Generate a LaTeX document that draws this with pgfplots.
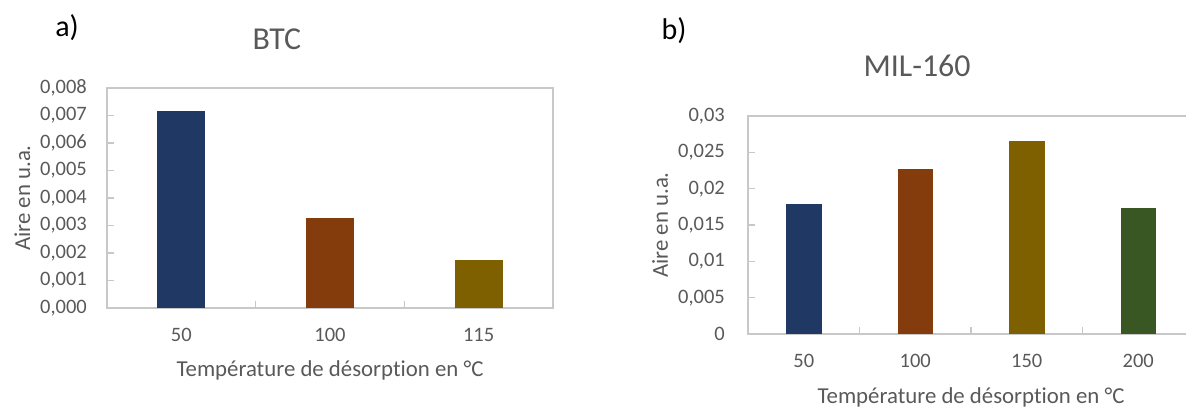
\documentclass[border=0pt]{standalone}
\usepackage{pgfplots}
\pgfplotsset{compat=1.18}
\usepackage{fontspec}
\setmainfont{Carlito}[Ligatures={NoCommon,NoContextual}]
\definecolor{txt}{HTML}{595959}
\definecolor{axgray}{HTML}{C8C8C8}
\definecolor{cblue}{HTML}{203864}
\definecolor{cbrown}{HTML}{843C0C}
\definecolor{colive}{HTML}{7F6000}
\definecolor{cgreen}{HTML}{385723}
\begin{document}
\begin{tikzpicture}
\path[use as bounding box] (0,0) rectangle (1186bp,409bp);
\pgfplotsset{
  common/.style={
    anchor=south west,
    scale only axis,
    width=446bp,
    axis line style={axgray, line width=1.5bp},
    tick style={axgray, line width=1.2bp},
    major tick length=7bp,
    minor tick length=7bp,
    tick align=inside,
    tick pos=left,
    major x tick style={draw=none},
    scaled y ticks=false,
    /pgf/number format/assume math mode=true,
    ymin=0,
    xmin=-0.5,
    every tick label/.append style={font=\fontsize{20.5bp}{24bp}\selectfont, text=txt, inner sep=0pt},
    xticklabel style={anchor=center, yshift=-27bp},
    label style={font=\fontsize{22.8bp}{27bp}\selectfont, text=txt},
    title style={font=\fontsize{31.9bp}{36bp}\selectfont, text=txt, anchor=center},
  }
}
\begin{axis}[common,
  at={(107bp,101bp)},
  height=220bp,
  xmax=2.5,
  ymax=0.008,
  xtick={0,1,2},
  xticklabels={50,100,115},
  minor xtick={0.5,1.5},
  ytick={0,0.001,0.002,0.003,0.004,0.005,0.006,0.007,0.008},
  yticklabels={{0,000},{0,001},{0,002},{0,003},{0,004},{0,005},{0,006},{0,007},{0,008}},
  yticklabel style={anchor=east, xshift=-20bp},
  xlabel={Température de désorption en °C},
  xlabel style={at={(axis description cs:0.5,-0.282)}, anchor=center},
  ylabel={Aire en u.a.},
  ylabel style={at={(axis description cs:-0.19,0.5)}, anchor=center},
  title={BTC},
  title style={at={(axis description cs:0.381,1.195)}},
]
\addplot[ybar, bar shift=0pt, bar width=48bp, fill=cblue, draw=none] coordinates {(0,0.00716)};
\addplot[ybar, bar shift=0pt, bar width=48bp, fill=cbrown, draw=none] coordinates {(1,0.00327)};
\addplot[ybar, bar shift=0pt, bar width=48bp, fill=colive, draw=none] coordinates {(2,0.00174)};
\end{axis}
\begin{axis}[common,
  at={(748bp,75bp)},
  height=218bp,
  xmax=3.5,
  ymax=0.03,
  xtick={0,1,2,3},
  xticklabels={50,100,150,200},
  minor xtick={0.5,1.5,2.5},
  ytick={0,0.005,0.01,0.015,0.02,0.025,0.03},
  yticklabels={0,{0,005},{0,01},{0,015},{0,02},{0,025},{0,03}},
  yticklabel style={anchor=east, xshift=-23bp},
  xlabel={Température de désorption en °C},
  xlabel style={at={(axis description cs:0.5,-0.289)}, anchor=center},
  ylabel={Aire en u.a.},
  ylabel style={at={(axis description cs:-0.197,0.5)}, anchor=center},
  title={MIL-160},
  title style={at={(axis description cs:0.379,1.202)}},
]
\addplot[ybar, bar shift=0pt, bar width=35.5bp, fill=cblue, draw=none] coordinates {(0,0.0179)};
\addplot[ybar, bar shift=0pt, bar width=35.5bp, fill=cbrown, draw=none] coordinates {(1,0.0227)};
\addplot[ybar, bar shift=0pt, bar width=35.5bp, fill=colive, draw=none] coordinates {(2,0.02656)};
\addplot[ybar, bar shift=0pt, bar width=35.5bp, fill=cgreen, draw=none] coordinates {(3,0.01734)};
\end{axis}
\node[font=\fontsize{30bp}{36bp}\selectfont, text=black] at (67bp,381bp) {a)};
\node[font=\fontsize{30bp}{36bp}\selectfont, text=black] at (674bp,378bp) {b)};
\end{tikzpicture}
\end{document}
